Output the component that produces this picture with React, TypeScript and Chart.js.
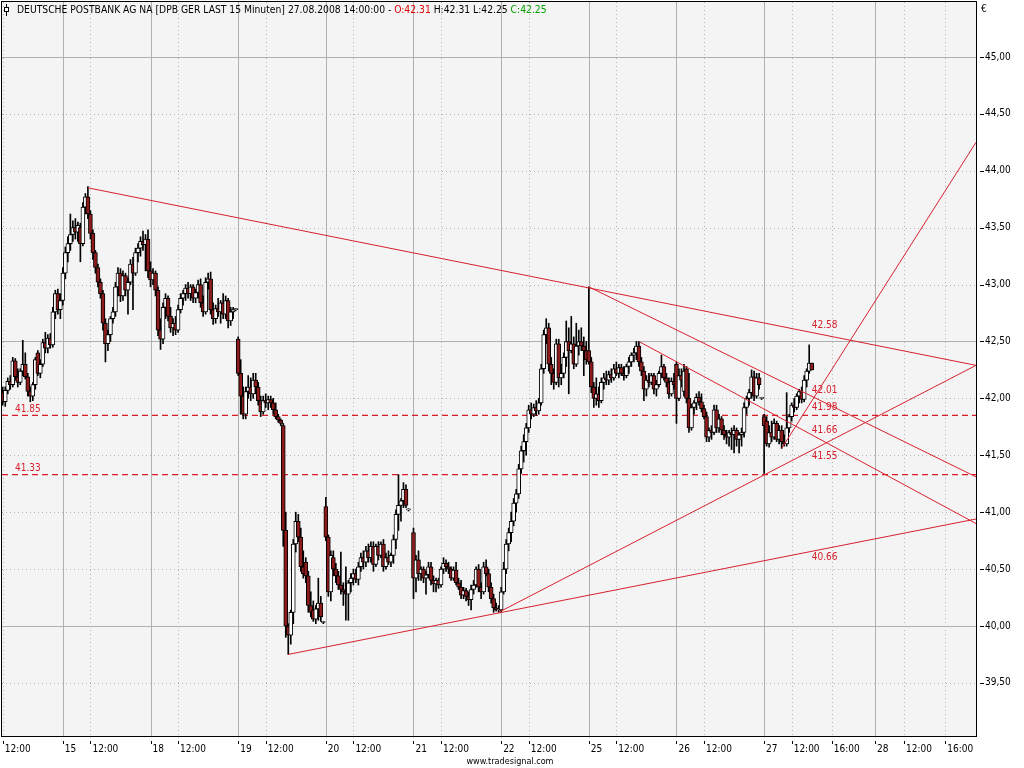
import React, { useEffect, useRef } from "react";
import { Chart, registerables } from "chart.js";
Chart.register(...registerables);

const FONT = '"DejaVu Sans Condensed", "DejaVu Sans", sans-serif';
const RED = "#D8212E";
const DOWN_FILL = "#8E1B1B";

// bar index: 0 = first 15-minute bar of 15.08.2008, 35 bars per session
const sessionStarts = [-24, 0, 35, 70, 105, 140, 175, 210, 245, 280];

// [open, high, low, close]
const bars14 = [
  [42.05, 42.10, 41.94, 41.97], [41.97, 42.10, 41.93, 42.07], [42.07, 42.18, 42.04, 42.15], [42.15, 42.20, 42.08, 42.12],
  [42.12, 42.36, 42.10, 42.33], [42.33, 42.35, 42.16, 42.19], [42.19, 42.26, 42.10, 42.14], [42.14, 42.26, 42.12, 42.24],
  [42.24, 42.51, 42.20, 42.30], [42.30, 42.40, 42.17, 42.19], [42.19, 42.22, 42.02, 42.06], [42.06, 42.10, 41.97, 42.02],
  [42.02, 42.14, 41.98, 42.12], [42.12, 42.36, 42.08, 42.34], [42.40, 42.42, 42.20, 42.22], [42.22, 42.34, 42.18, 42.30],
  [42.30, 42.52, 42.28, 42.49], [42.49, 42.58, 42.40, 42.44], [42.44, 42.56, 42.40, 42.53], [42.53, 42.57, 42.44, 42.47],
  [42.47, 42.80, 42.45, 42.76], [42.76, 42.95, 42.70, 42.92], [42.92, 42.96, 42.74, 42.78], [42.78, 42.92, 42.70, 42.86],
];
const bars15 = [
  [42.86, 43.15, 42.82, 43.10], [43.10, 43.33, 43.05, 43.28], [43.28, 43.42, 43.20, 43.36], [43.36, 43.62, 43.30, 43.44],
  [43.44, 43.56, 43.38, 43.50], [43.50, 43.58, 43.40, 43.46], [43.46, 43.55, 43.38, 43.52], [43.50, 43.54, 43.20, 43.36],
  [43.36, 43.72, 43.34, 43.68], [43.68, 43.80, 43.62, 43.77], [43.77, 43.86, 43.58, 43.62], [43.62, 43.65, 43.40, 43.45],
  [43.45, 43.48, 43.22, 43.28], [43.28, 43.30, 43.10, 43.15], [43.15, 43.18, 42.98, 43.02], [43.02, 43.05, 42.88, 42.92],
  [42.92, 42.95, 42.60, 42.66], [42.66, 42.70, 42.32, 42.48], [42.48, 42.60, 42.42, 42.56], [42.56, 42.72, 42.50, 42.70],
  [42.70, 42.80, 42.66, 42.76], [42.76, 43.02, 42.72, 42.98], [42.98, 43.15, 42.90, 43.10], [43.10, 43.14, 42.85, 42.90],
  [42.90, 43.12, 42.86, 43.08], [43.08, 43.10, 42.90, 42.95], [42.95, 43.06, 42.74, 43.02], [43.02, 43.22, 43.00, 43.18],
  [43.18, 43.24, 42.78, 43.10], [43.10, 43.32, 43.08, 43.28], [43.28, 43.36, 43.20, 43.32], [43.32, 43.42, 43.25, 43.38],
  [43.38, 43.47, 43.30, 43.35], [43.35, 43.44, 43.12, 43.40], [43.40, 43.48, 43.06, 43.12],
];
const bars18 = [
  [43.12, 43.20, 42.98, 43.04], [43.04, 43.14, 43.00, 43.10], [43.10, 43.12, 42.90, 42.95], [42.95, 42.98, 42.55, 42.60],
  [42.60, 42.70, 42.43, 42.52], [42.52, 42.84, 42.48, 42.80], [42.80, 42.92, 42.70, 42.88], [42.88, 42.90, 42.68, 42.72],
  [42.72, 42.80, 42.58, 42.62], [42.62, 42.70, 42.55, 42.66], [42.66, 42.72, 42.56, 42.60], [42.60, 42.82, 42.58, 42.78],
  [42.78, 42.92, 42.75, 42.88], [42.88, 42.95, 42.82, 42.92], [42.92, 43.00, 42.86, 42.97], [42.97, 43.02, 42.88, 42.92],
  [42.92, 43.00, 42.86, 42.98], [42.98, 43.00, 42.84, 42.88], [42.88, 42.96, 42.84, 42.93], [42.93, 43.04, 42.88, 43.00],
  [43.00, 43.05, 42.80, 42.84], [42.84, 42.90, 42.72, 42.76], [42.76, 43.06, 42.74, 43.02], [43.02, 43.10, 42.96, 43.05],
  [43.05, 43.11, 42.74, 42.78], [42.78, 42.84, 42.65, 42.70], [42.70, 42.82, 42.66, 42.79], [42.79, 42.88, 42.72, 42.76],
  [42.76, 42.86, 42.66, 42.84], [42.84, 42.92, 42.70, 42.74], [42.74, 42.90, 42.70, 42.86], [42.86, 42.88, 42.62, 42.68],
  [42.68, 42.80, 42.64, 42.76], [42.76, 42.80, 42.70, 42.78], [42.78, 42.79, 42.77, 42.78],
];
const bars19 = [
  [42.52, 42.54, 42.20, 42.22], [42.22, 42.34, 41.86, 42.02], [42.02, 42.10, 41.82, 41.86], [41.86, 42.10, 41.82, 42.06],
  [42.06, 42.20, 42.00, 42.10], [42.10, 42.18, 41.98, 42.04], [42.04, 42.22, 42.00, 42.16], [42.16, 42.22, 42.04, 42.10],
  [42.10, 42.14, 41.94, 41.98], [41.98, 42.02, 41.84, 41.88], [41.88, 42.02, 41.86, 41.98], [41.98, 42.04, 41.92, 41.96],
  [41.96, 42.02, 41.90, 41.99], [41.99, 42.02, 41.92, 41.96], [41.96, 42.00, 41.86, 41.90], [41.90, 41.96, 41.82, 41.84],
  [41.84, 41.86, 41.79, 41.81], [41.81, 41.82, 41.76, 41.78], [41.76, 41.78, 40.70, 40.84], [40.84, 41.00, 39.90, 40.00],
  [40.00, 40.02, 39.75, 39.92], [39.92, 40.14, 39.84, 40.12], [40.12, 40.76, 40.02, 40.72], [40.72, 41.00, 40.65, 40.92],
  [40.92, 40.98, 40.74, 40.78], [40.78, 40.86, 40.48, 40.52], [40.52, 40.66, 40.42, 40.46], [40.56, 40.60, 40.38, 40.44],
  [40.44, 40.48, 40.12, 40.18], [40.18, 40.30, 40.08, 40.12], [40.14, 40.22, 40.04, 40.06], [40.06, 40.18, 40.02, 40.15],
  [40.15, 40.42, 40.05, 40.20], [40.20, 40.26, 40.04, 40.08], [40.03, 40.04, 40.02, 40.03],
];
const bars20 = [
  [41.05, 41.13, 40.75, 40.78], [40.78, 40.80, 40.26, 40.30], [40.30, 40.66, 40.22, 40.62], [40.60, 40.66, 40.44, 40.50],
  [40.50, 40.55, 40.38, 40.44], [40.44, 40.48, 40.32, 40.36], [40.36, 40.65, 40.28, 40.32], [40.32, 40.38, 40.18, 40.30],
  [40.30, 40.52, 40.05, 40.28], [40.28, 40.40, 40.05, 40.38], [40.38, 40.46, 40.30, 40.42], [40.42, 40.50, 40.36, 40.46],
  [40.46, 40.50, 40.38, 40.41], [40.41, 40.56, 40.36, 40.52], [40.52, 40.64, 40.48, 40.60], [40.60, 40.66, 40.50, 40.56],
  [40.56, 40.70, 40.52, 40.66], [40.66, 40.72, 40.56, 40.60], [40.60, 40.74, 40.56, 40.70], [40.70, 40.74, 40.48, 40.54],
  [40.54, 40.72, 40.52, 40.70], [40.70, 40.74, 40.58, 40.62], [40.62, 40.74, 40.60, 40.72], [40.72, 40.76, 40.48, 40.52],
  [40.52, 40.64, 40.50, 40.60], [40.60, 40.66, 40.54, 40.56], [40.56, 40.64, 40.52, 40.62], [40.62, 40.80, 40.55, 40.76],
  [40.76, 41.02, 40.68, 40.98], [40.98, 41.33, 40.84, 41.06], [41.06, 41.12, 40.92, 41.10], [41.10, 41.26, 41.04, 41.20],
  [41.20, 41.24, 41.04, 41.06], [41.02, 41.03, 41.01, 41.02],
];
const bars21 = [
  [40.82, 40.86, 40.24, 40.42], [40.42, 40.62, 40.30, 40.58], [40.58, 40.66, 40.40, 40.46], [40.46, 40.52, 40.40, 40.50],
  [40.50, 40.52, 40.38, 40.42], [40.42, 40.48, 40.28, 40.45], [40.45, 40.56, 40.42, 40.52], [40.52, 40.56, 40.36, 40.40],
  [40.40, 40.44, 40.30, 40.37], [40.37, 40.42, 40.30, 40.40], [40.40, 40.42, 40.33, 40.36], [40.36, 40.52, 40.34, 40.50],
  [40.50, 40.60, 40.46, 40.55], [40.55, 40.58, 40.48, 40.52], [40.52, 40.56, 40.46, 40.50], [40.50, 40.52, 40.40, 40.42],
  [40.42, 40.52, 40.40, 40.49], [40.49, 40.56, 40.36, 40.38], [40.38, 40.42, 40.32, 40.34], [40.34, 40.40, 40.24, 40.27],
  [40.27, 40.34, 40.24, 40.31], [40.31, 40.33, 40.22, 40.26], [40.26, 40.30, 40.18, 40.23], [40.23, 40.36, 40.14, 40.32],
  [40.32, 40.40, 40.28, 40.36], [40.36, 40.52, 40.34, 40.50], [40.50, 40.54, 40.30, 40.34], [40.34, 40.38, 40.24, 40.30],
  [40.30, 40.56, 40.28, 40.52], [40.52, 40.58, 40.44, 40.46], [40.46, 40.50, 40.30, 40.34], [40.34, 40.38, 40.20, 40.24],
  [40.24, 40.28, 40.12, 40.16], [40.16, 40.20, 40.13, 40.14], [40.14, 40.18, 40.12, 40.15],
];
const bars22 = [
  [40.14, 40.34, 40.12, 40.30], [40.30, 40.56, 40.28, 40.50], [40.50, 40.76, 40.46, 40.72], [40.72, 40.86, 40.66, 40.82],
  [40.82, 41.00, 40.74, 40.92], [40.92, 41.12, 40.88, 41.08], [41.08, 41.20, 41.00, 41.16], [41.16, 41.42, 41.12, 41.38],
  [41.38, 41.58, 41.34, 41.54], [41.54, 41.68, 41.44, 41.62], [41.62, 41.78, 41.50, 41.74], [41.74, 41.94, 41.70, 41.90],
  [41.90, 41.96, 41.82, 41.86], [41.86, 41.95, 41.84, 41.92], [41.92, 41.98, 41.85, 41.89], [41.89, 42.00, 41.86, 41.96],
  [41.96, 42.30, 41.94, 42.26], [42.26, 42.60, 42.22, 42.56], [42.56, 42.70, 42.48, 42.62], [42.62, 42.66, 42.24, 42.30],
  [42.30, 42.36, 42.12, 42.22], [42.22, 42.26, 42.08, 42.14], [42.14, 42.52, 42.12, 42.48], [42.48, 42.52, 42.10, 42.18],
  [42.18, 42.30, 42.12, 42.22], [42.22, 42.40, 42.18, 42.36], [42.36, 42.68, 42.28, 42.50], [42.50, 42.62, 42.04, 42.42],
  [42.42, 42.72, 42.40, 42.48], [42.48, 42.54, 42.26, 42.30], [42.30, 42.66, 42.28, 42.46], [42.46, 42.60, 42.38, 42.50],
  [42.50, 42.62, 42.42, 42.46], [42.46, 42.54, 42.20, 42.42], [42.42, 42.50, 42.30, 42.34],
];
const bars25 = [
  [42.42, 42.98, 42.30, 42.32], [42.32, 42.36, 42.05, 42.10], [42.10, 42.14, 41.92, 42.00], [42.00, 42.18, 41.94, 42.04],
  [42.04, 42.10, 41.92, 41.98], [41.98, 42.18, 41.96, 42.14], [42.14, 42.22, 42.08, 42.18], [42.18, 42.24, 42.12, 42.16],
  [42.16, 42.24, 42.12, 42.21], [42.21, 42.26, 42.14, 42.18], [42.18, 42.30, 42.16, 42.26], [42.26, 42.32, 42.20, 42.22],
  [42.22, 42.30, 42.18, 42.27], [42.27, 42.30, 42.20, 42.22], [42.22, 42.28, 42.16, 42.20], [42.20, 42.30, 42.18, 42.28],
  [42.28, 42.36, 42.22, 42.32], [42.32, 42.40, 42.28, 42.38], [42.38, 42.44, 42.32, 42.40], [42.40, 42.50, 42.34, 42.46],
  [42.46, 42.50, 42.28, 42.32], [42.32, 42.36, 42.20, 42.24], [42.24, 42.28, 41.98, 42.08], [42.08, 42.20, 42.02, 42.16],
  [42.16, 42.22, 42.10, 42.14], [42.14, 42.22, 42.12, 42.20], [42.20, 42.22, 42.04, 42.08], [42.08, 42.16, 42.02, 42.12],
  [42.12, 42.24, 42.10, 42.22], [42.22, 42.38, 42.18, 42.28], [42.28, 42.30, 42.16, 42.18], [42.18, 42.22, 42.10, 42.14],
  [42.14, 42.18, 42.00, 42.04], [42.04, 42.18, 42.02, 42.15], [42.15, 42.22, 42.08, 42.12],
];
const bars26 = [
  [42.30, 42.32, 41.78, 42.00], [42.00, 42.26, 41.98, 42.20], [42.20, 42.26, 42.10, 42.16], [42.06, 42.30, 42.02, 42.24],
  [42.26, 42.28, 41.96, 42.00], [42.00, 42.22, 41.70, 41.74], [41.74, 41.95, 41.72, 41.92], [41.92, 41.98, 41.86, 41.96],
  [41.96, 42.04, 41.90, 42.01], [42.01, 42.06, 41.94, 41.97], [41.97, 42.04, 41.88, 41.91], [41.91, 41.94, 41.82, 41.84],
  [41.84, 41.88, 41.62, 41.66], [41.66, 41.74, 41.62, 41.72], [41.72, 41.76, 41.64, 41.70], [41.70, 41.94, 41.68, 41.90],
  [41.90, 41.94, 41.70, 41.74], [41.74, 41.86, 41.70, 41.82], [41.82, 41.84, 41.68, 41.72], [41.72, 41.76, 41.64, 41.68],
  [41.68, 41.72, 41.60, 41.66], [41.66, 41.72, 41.58, 41.70], [41.70, 41.74, 41.55, 41.68], [41.68, 41.76, 41.52, 41.72],
  [41.72, 41.74, 41.58, 41.64], [41.64, 41.70, 41.52, 41.68], [41.68, 41.74, 41.58, 41.70], [41.70, 41.96, 41.66, 41.92],
  [41.92, 42.02, 41.86, 42.00], [42.00, 42.08, 41.94, 42.05], [42.05, 42.25, 42.00, 42.19], [42.19, 42.24, 41.98, 42.02],
  [42.02, 42.22, 42.00, 42.18], [42.18, 42.22, 42.08, 42.12], [42.00, 42.01, 41.99, 42.00],
];
const bars27 = [
  [41.84, 41.86, 41.34, 41.76], [41.80, 41.84, 41.58, 41.60], [41.60, 41.76, 41.57, 41.70], [41.70, 41.80, 41.62, 41.66],
  [41.66, 41.82, 41.64, 41.78], [41.78, 41.80, 41.62, 41.64], [41.64, 41.76, 41.60, 41.72], [41.72, 41.76, 41.56, 41.62],
  [41.62, 41.68, 41.58, 41.60], [41.60, 42.05, 41.58, 41.74], [41.74, 41.86, 41.70, 41.84], [41.84, 41.96, 41.80, 41.94],
  [41.94, 42.00, 41.88, 41.92], [41.92, 42.04, 41.90, 42.02], [42.02, 42.08, 41.96, 42.06], [42.06, 42.10, 41.96, 41.99],
  [41.99, 42.20, 41.97, 42.16], [42.16, 42.26, 42.10, 42.24], [42.24, 42.47, 42.22, 42.31], [42.31, 42.31, 42.25, 42.25],
];
const sessionBars = [bars14, bars15, bars18, bars19, bars20, bars21, bars22, bars25, bars26, bars27];

// time axis
const xMin = -24.3;
const xMax = 364.6;
const xTickValues = [-24, 0, 11, 35, 46, 70, 81, 105, 116, 140, 151, 175, 186, 210, 221, 245, 256, 280, 291, 307, 324.3, 335.9, 352.3];
const xTickLabels = ["12:00", "15", "12:00", "18", "12:00", "19", "12:00", "20", "12:00", "21", "12:00", "22", "12:00", "25", "12:00", "26", "12:00", "27", "12:00", "16:00", "28", "12:00", "16:00"];
const daySeparators = [0, 35, 70, 105, 140, 175, 210, 245, 280, 324.3];
const hourLines = [-24, 11, 46, 81, 116, 151, 186, 221, 256, 291, 307, 335.9, 352.3];

// price axis
const yMin = 39.033;
const yMax = 45.483;
const yTickValues = [39.5, 40, 40.5, 41, 41.5, 42, 42.5, 43, 43.5, 44, 44.5, 45];
const yMajorLines = [40, 42.5, 45];

// trend lines (bar index, price)
const lineA = [{ x: 10, y: 43.85 }, { x: 364.6, y: 42.29 }];
const lineB = [{ x: 210, y: 42.98 }, { x: 364.6, y: 41.31 }];
const lineC = [{ x: 230, y: 42.5 }, { x: 364.6, y: 40.9 }];
const lineD = [{ x: 174, y: 40.12 }, { x: 364.6, y: 42.29 }];
const lineE = [{ x: 90, y: 39.75 }, { x: 364.6, y: 40.94 }];
const lineF = [{ x: 287, y: 41.56 }, { x: 364.6, y: 44.25 }];
const trendLines = [lineA, lineB, lineC, lineD, lineE, lineF];
const lineLabelValues = [42.58, 42.01, 41.98, 41.66, 41.55, 40.66];
const levelValues = [41.85, 41.33];

// label placement: -1 above the line, 1 below
const lineLabelSide = [-1, -1, 1, -1, 1, 1];

const candles: { x: number; o: number; h: number; l: number; c: number }[] = [];
sessionBars.forEach((bars, s) =>
  bars.forEach((b, k) => candles.push({ x: sessionStarts[s] + k, o: b[0], h: b[1], l: b[2], c: b[3] }))
);
const lastBar = candles[candles.length - 1];

const crisp = (v: number) => Math.round(v) + 0.5;

const decor = {
  id: "decor",
  beforeDraw(chart: any) {
    const { ctx, chartArea: a } = chart;
    ctx.save();
    ctx.fillStyle = "#ffffff";
    ctx.fillRect(0, 0, chart.width, chart.height);
    ctx.fillStyle = "#F4F4F4";
    ctx.fillRect(a.left, a.top, a.right - a.left, a.bottom - a.top);
    ctx.restore();
  },
  beforeDatasetsDraw(chart: any) {
    const { ctx, chartArea: a, scales } = chart;
    const xs = scales.x, ys = scales.y;
    ctx.save();
    ctx.lineWidth = 1;
    ctx.strokeStyle = "#B5B5B5";
    ctx.setLineDash([1, 3]);
    ctx.beginPath();
    hourLines.forEach((v) => {
      const px = crisp(xs.getPixelForValue(v));
      ctx.moveTo(px, a.top);
      ctx.lineTo(px, a.bottom);
    });
    yTickValues.filter((v) => !yMajorLines.includes(v)).forEach((v) => {
      const py = crisp(ys.getPixelForValue(v));
      ctx.moveTo(a.left, py);
      ctx.lineTo(a.right, py);
    });
    ctx.stroke();
    ctx.setLineDash([]);
    ctx.strokeStyle = "#B0B0B0";
    ctx.beginPath();
    daySeparators.forEach((v) => {
      const px = crisp(xs.getPixelForValue(v));
      ctx.moveTo(px, a.top);
      ctx.lineTo(px, a.bottom);
    });
    yMajorLines.forEach((v) => {
      const py = crisp(ys.getPixelForValue(v));
      ctx.moveTo(a.left, py);
      ctx.lineTo(a.right, py);
    });
    ctx.stroke();
    ctx.restore();
  },
  afterDatasetsDraw(chart: any) {
    const { ctx, chartArea: a, scales } = chart;
    const xs = scales.x, ys = scales.y;
    ctx.save();
    ctx.font = `10px ${FONT}`;
    ctx.fillStyle = RED;
    ctx.textBaseline = "middle";
    ctx.textAlign = "left";
    const lx = xs.getPixelForValue(lastBar.x);
    lineLabelValues.forEach((v, i) => {
      const py = ys.getPixelForValue(v) + lineLabelSide[i] * 6.5;
      ctx.fillText(v.toFixed(2), lx, py);
    });
    levelValues.forEach((v) => {
      ctx.fillText(v.toFixed(2), a.left + 13, ys.getPixelForValue(v) - 6.5);
    });
    ctx.restore();
  },
  afterDraw(chart: any) {
    const { ctx, chartArea: a, scales } = chart;
    const xs = scales.x, ys = scales.y;
    ctx.save();
    ctx.strokeStyle = "#000";
    ctx.lineWidth = 1;
    ctx.strokeRect(a.left - 0.5, a.top - 0.5, a.right - a.left + 1, a.bottom - a.top + 1);
    ctx.beginPath();
    xTickValues.forEach((v) => {
      const px = crisp(xs.getPixelForValue(v));
      ctx.moveTo(px, a.bottom + 5);
      ctx.lineTo(px, a.bottom + 8);
    });
    yTickValues.forEach((v) => {
      const py = crisp(ys.getPixelForValue(v));
      ctx.moveTo(a.right + 4, py);
      ctx.lineTo(a.right + 8, py);
    });
    ctx.stroke();
    ctx.font = `10px ${FONT}`;
    ctx.fillStyle = "#000";
    ctx.textBaseline = "middle";
    ctx.textAlign = "left";
    ctx.fillText("€", a.right + 5, 9);
    ctx.beginPath();
    ctx.moveTo(6.5, 4);
    ctx.lineTo(6.5, 16);
    ctx.stroke();
    ctx.fillStyle = "#fff";
    ctx.fillRect(4, 7, 5, 5);
    ctx.strokeRect(4.5, 7.5, 4, 4);
    ctx.font = `10.25px ${FONT}`;
    const segs: [string, string][] = [
      ["DEUTSCHE POSTBANK AG NA [DPB GER LAST 15 Minuten] 27.08.2008 14:00:00 - ", "#000"],
      [`O:${lastBar.o.toFixed(2)}`, "#E00000"],
      [` H:${lastBar.h.toFixed(2)}`, "#000"],
      [` L:${lastBar.l.toFixed(2)}`, "#000"],
      [` C:${lastBar.c.toFixed(2)}`, "#00A000"],
    ];
    let tx = 17;
    segs.forEach(([t, col]) => {
      ctx.fillStyle = col;
      ctx.fillText(t, tx, 10);
      tx += ctx.measureText(t).width;
    });
    ctx.font = `9px ${FONT}`;
    ctx.fillStyle = "#000";
    ctx.textAlign = "center";
    ctx.fillText("www.tradesignal.com", 510, 762);
    ctx.restore();
  },
};

export default function App() {
  const ref = useRef<HTMLCanvasElement>(null);
  useEffect(() => {
    const wickData = candles.map((c) => ({ x: c.x, y: [c.l, c.h] }));
    const bodyData = candles.map((c) => ({ x: c.x, y: [c.o, c.c] }));
    const bodyColors = candles.map((c) => (c.c >= c.o ? "#FFFFFF" : DOWN_FILL));
    const lineSets = trendLines.map((pts) => ({
      type: "line" as const,
      data: pts,
      borderColor: RED,
      borderWidth: 1,
      pointRadius: 0,
      fill: false,
      tension: 0,
      order: 0,
    }));
    const levelSets = levelValues.map((v) => ({
      type: "line" as const,
      data: [{ x: xMin, y: v }, { x: xMax, y: v }],
      borderColor: "#D81E2A",
      borderWidth: 1.3,
      borderDash: [6, 4],
      pointRadius: 0,
      fill: false,
      order: 3,
    }));
    const zeroPad = (s: any) => {
      s.paddingTop = 0;
      s.paddingBottom = 0;
      s.paddingLeft = 0;
      s.paddingRight = 0;
    };
    const chart = new Chart(ref.current as HTMLCanvasElement, {
      type: "bar",
      data: {
        datasets: [
          ...(levelSets as any[]),
          {
            type: "bar",
            data: wickData as any,
            backgroundColor: "#000000",
            barThickness: 1,
            grouped: false,
            order: 2,
          },
          {
            type: "bar",
            data: bodyData as any,
            backgroundColor: bodyColors,
            borderColor: "#000000",
            borderWidth: 1,
            borderSkipped: false,
            barThickness: 4,
            minBarLength: 1,
            grouped: false,
            order: 1,
          },
          ...(lineSets as any[]),
        ],
      },
      options: {
        responsive: false,
        animation: false,
        devicePixelRatio: 1,
        layout: { padding: { left: 2, top: 2, right: 0, bottom: 0 } },
        plugins: { legend: { display: false }, tooltip: { enabled: false }, title: { display: false } },
        events: [],
        scales: {
          x: {
            type: "linear",
            min: xMin,
            max: xMax,
            offset: false,
            grid: { display: false, drawTicks: false },
            border: { display: false },
            afterBuildTicks: (s: any) => {
              s.ticks = xTickValues.map((v) => ({ value: v }));
            },
            afterFit: (s: any) => {
              s.height = 32;
              zeroPad(s);
            },
            ticks: {
              autoSkip: false,
              maxRotation: 0,
              minRotation: 0,
              align: "start",
              labelOffset: 2,
              padding: 7,
              color: "#000",
              font: { family: FONT, size: 10 },
              callback: (_v: any, i: number) => xTickLabels[i],
            },
          },
          y: {
            type: "linear",
            position: "right",
            min: yMin,
            max: yMax,
            grid: { display: false, drawTicks: false },
            border: { display: false },
            afterBuildTicks: (s: any) => {
              s.ticks = yTickValues.map((v) => ({ value: v }));
            },
            afterFit: (s: any) => {
              s.width = 48;
              zeroPad(s);
            },
            ticks: {
              padding: 9,
              color: "#000",
              font: { family: FONT, size: 10 },
              callback: (v: any) => Number(v).toFixed(2).replace(".", ","),
            },
          },
        },
      } as any,
      plugins: [decor],
    });
    return () => chart.destroy();
  }, []);
  return (
    <div style={{ position: "fixed", left: 0, top: 0, width: 1024, height: 768, background: "#fff" }}>
      <canvas ref={ref} width={1024} height={768} style={{ display: "block", width: 1024, height: 768 }} />
    </div>
  );
}
